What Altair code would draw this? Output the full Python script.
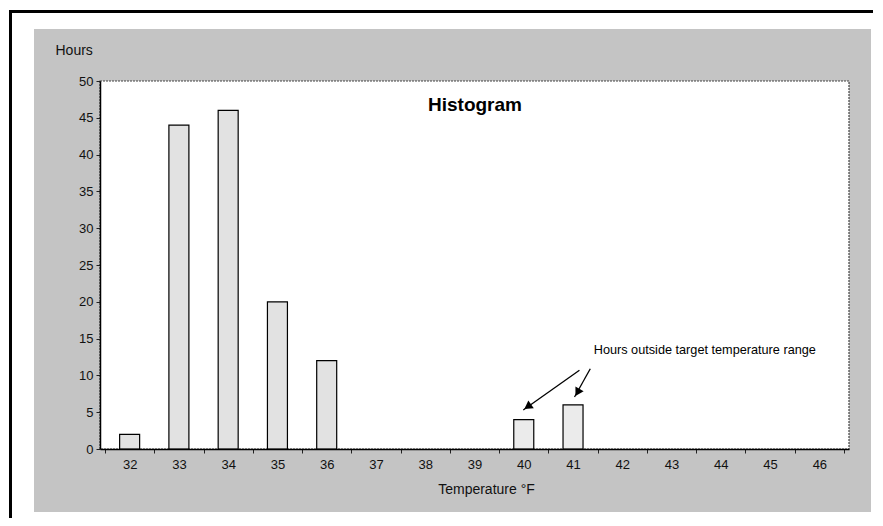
import altair as alt
import pandas as pd

# ---- data ----
temps = [32, 33, 34, 35, 36, 37, 38, 39, 40, 41, 42, 43, 44, 45, 46]
hours = [2, 44, 46, 20, 12, 0, 0, 0, 4, 6, 0, 0, 0, 0, 0]
target_max = 39  # temperatures above this are outside the target range

# annotation (arrows) in data units: temperature, hours
arrow_x0 = [41.13, 41.35]
arrow_y0 = [10.7, 10.9]
arrow_x1 = [39.99, 41.03]
arrow_y1 = [5.3, 7.07]
head_x = [40.08, 41.09]
head_y = [5.75, 7.7]
head_angle = [235, 210]
note_text = ["Hours outside target temperature range"]
note_x = [41.42]
note_y = [13.45]

FONT = "Liberation Sans"
W, H = 749, 368
PAD = {"left": 92, "top": 73, "right": 24, "bottom": 69}

bars_df = pd.DataFrame({"temp": temps, "hours": hours})
bars_df["range"] = ["outside" if t > target_max else "inside" for t in temps]
bars_df = bars_df[bars_df["hours"] > 0]

arrows_df = pd.DataFrame({"x0": arrow_x0, "y0": arrow_y0, "x1": arrow_x1, "y1": arrow_y1})
heads_df = pd.DataFrame({"x": head_x, "y": head_y, "a": head_angle})
note_df = pd.DataFrame({"x": note_x, "y": note_y, "t": note_text})

one = alt.Data(values=[{}])

xscale = alt.Scale(domain=[31.5, 46.5], nice=False, zero=False)
yscale = alt.Scale(domain=[0, 50], nice=False)

boundaries = [t - 0.5 for t in temps] + [temps[-1] + 0.5]
tick_values = sorted(temps + boundaries)

x_axis = alt.Axis(
    values=tick_values,
    labelExpr="datum.value % 1 == 0 ? format(datum.value, 'd') : ''",
    tickOpacity=alt.expr("datum.value % 1 == 0 ? 0 : 1"),
    labelOverlap=False,
    tickSize=4, tickColor="#222", domainColor="#000", domainWidth=1.5,
    labelFont=FONT, labelFontSize=13, labelColor="#111", labelPadding=5,
    grid=False, title="Temperature °F", titleFont=FONT, titleFontSize=14,
    titleFontWeight="normal", titleColor="#111", titleX=386, titleY=40,
    titleBaseline="middle", titleAnchor="start", titleAlign="center",
    zindex=2,
)
y_axis = alt.Axis(
    values=list(range(0, 51, 5)), tickSize=4, tickColor="#222",
    labelOverlap=False,
    domainColor="#000", domainWidth=1.5,
    labelFont=FONT, labelFontSize=13, labelColor="#111", labelPadding=3,
    grid=False, title="Hours", titleFont=FONT, titleFontSize=14,
    titleFontWeight="normal", titleColor="#111", titleAngle=0,
    titleAlign="left", titleBaseline="middle", titleX=-45, titleY=-31,
    zindex=2,
)

right_edge = W + PAD["right"]
bottom_edge = H + PAD["bottom"]

# decoration: gray panel, white plot area, black frame (top and left edges)
panel = alt.Chart(one).mark_rect(color="#c4c4c4").encode(
    x=alt.value(-66), x2=alt.value(771), y=alt.value(-52), y2=alt.value(431))
plotbg = alt.Chart(one).mark_rect(fill="white", stroke="#444", strokeWidth=1.2,
                                  strokeDash=[2, 1]).encode(
    x=alt.value(0), x2=alt.value(W), y=alt.value(0), y2=alt.value(H))
frame_top = alt.Chart(one).mark_rect(color="black").encode(
    x=alt.value(-91), x2=alt.value(right_edge), y=alt.value(-71), y2=alt.value(-68))
frame_left = alt.Chart(one).mark_rect(color="black").encode(
    x=alt.value(-91), x2=alt.value(-88), y=alt.value(-71), y2=alt.value(bottom_edge))

X = lambda f: alt.X(f, scale=xscale, axis=x_axis)
Y = lambda f: alt.Y(f, scale=yscale, axis=y_axis)

bars = alt.Chart(bars_df).mark_bar(size=20, stroke="black", strokeWidth=1.2).encode(
    x=X("temp:Q"), y=Y("hours:Q"),
    fill=alt.Fill("range:N", scale=alt.Scale(domain=["inside", "outside"],
                                             range=["#e2e2e2", "#ebebeb"]), legend=None),
)

arrows = alt.Chart(arrows_df).mark_rule(color="black", strokeWidth=1.3).encode(
    x=X("x0:Q"), y=Y("y0:Q"), x2="x1:Q", y2="y1:Q")
heads = alt.Chart(heads_df).mark_point(shape="triangle-up", filled=True, color="black",
                                       size=90, opacity=1).encode(
    x=X("x:Q"), y=Y("y:Q"), angle=alt.Angle("a:Q", scale=None))
note = alt.Chart(note_df).mark_text(align="left", baseline="middle", font=FONT,
                                    fontSize=12.7, color="black").encode(
    x=X("x:Q"), y=Y("y:Q"), text="t:N")
title = alt.Chart(one).mark_text(text="Histogram", font=FONT, fontSize=19,
                                 fontWeight="bold", color="black",
                                 align="center", baseline="middle").encode(
    x=alt.value(375), y=alt.value(24))

chart = alt.layer(panel, plotbg, frame_top, frame_left, bars, arrows, heads, note, title).properties(
    width=W, height=H,
    autosize=alt.AutoSizeParams(type="none"),
    padding=PAD,
    background="white",
).configure_view(stroke=None)

chart.save("out.html", embed_options={"renderer": "svg", "actions": False})
